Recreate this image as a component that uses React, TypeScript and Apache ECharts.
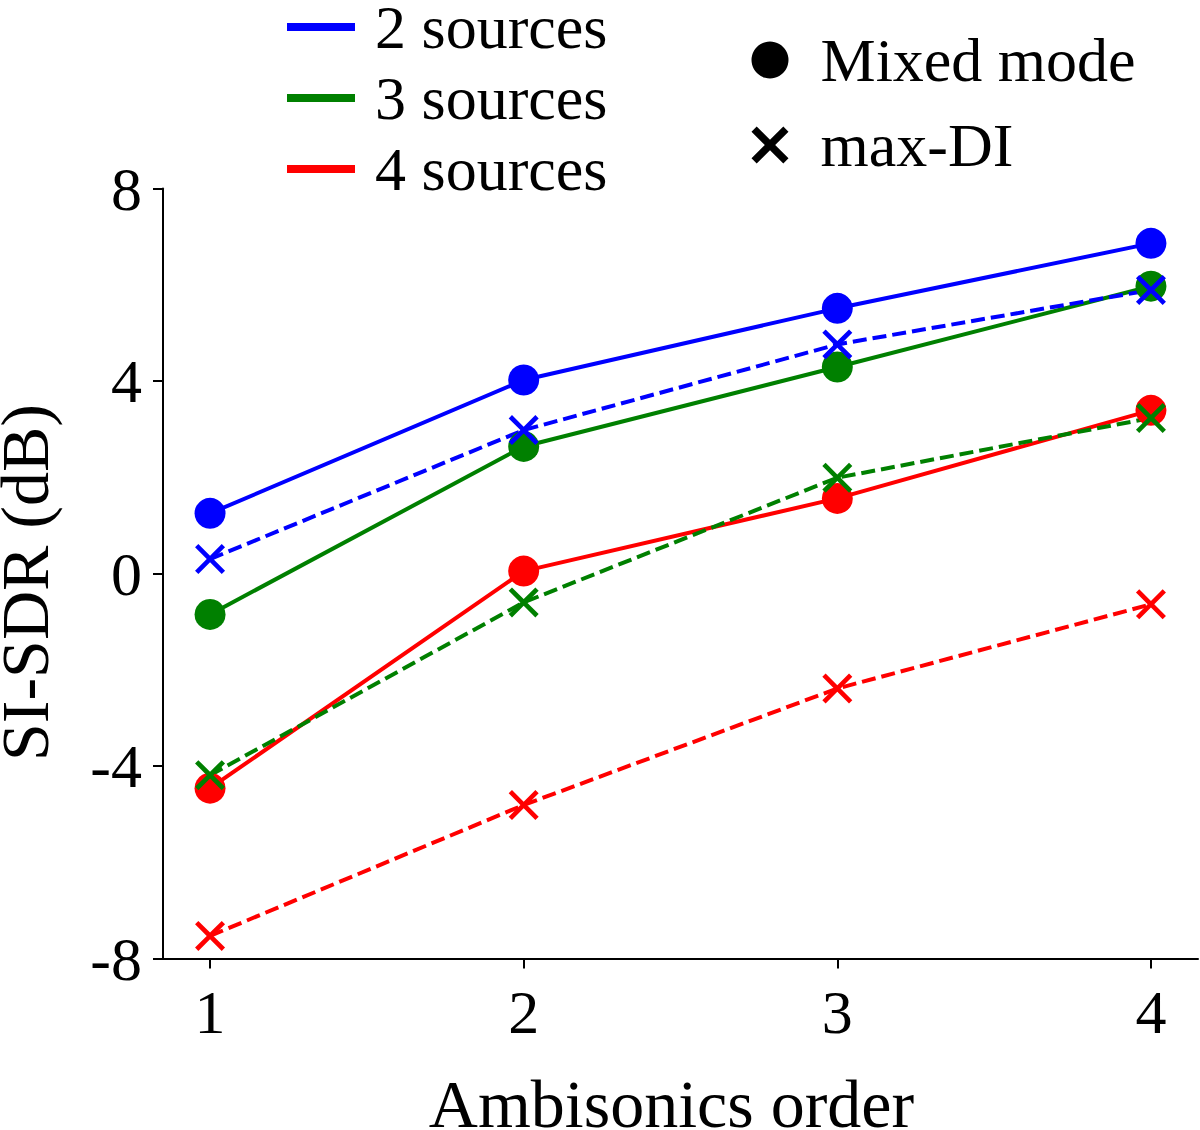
import React, { useEffect, useRef } from "react";
import * as echarts from "echarts";

const orders = [1, 2, 3, 4];
const mixed2 = [1.25, 4.02, 5.51, 6.86];
const mixed3 = [-0.85, 2.64, 4.29, 5.97];
const mixed4 = [-4.46, 0.05, 1.56, 3.39];
const maxdi2 = [0.3, 2.98, 4.76, 5.89];
const maxdi3 = [-4.19, -0.6, 1.99, 3.23];
const maxdi4 = [-7.53, -4.81, -2.39, -0.64];

const sourceNames = ["2 sources", "3 sources", "4 sources"];
const modeNames = ["Mixed mode", "max-DI"];
const colors = ["#0000ff", "#008000", "#ff0000"];
const yTicks = [-8, -4, 0, 4, 8];

const FONT = "'Liberation Serif', 'Times New Roman', serif";
const X_THIN = "path://M11,0L50,39L89,0L100,11L61,50L100,89L89,100L50,61L11,100L0,89L39,50L0,11Z";
const X_THICK = "path://M14,0L50,36L86,0L100,14L64,50L100,86L86,100L50,64L14,100L0,86L36,50L0,14Z";

const pairs = (vals: number[]) => orders.map((o, i) => [o, vals[i]]);

export default function App() {
  const ref = useRef<HTMLDivElement>(null);
  useEffect(() => {
    if (!ref.current) return;
    const chart = echarts.init(ref.current, undefined, { renderer: "svg" });
    const mixed = [mixed2, mixed3, mixed4];
    const maxdi = [maxdi2, maxdi3, maxdi4];
    const series: any[] = [];
    mixed.forEach((vals, i) => {
      series.push({
        name: sourceNames[i] + " mixed",
        type: "line",
        data: pairs(vals),
        color: colors[i],
        symbol: "circle",
        symbolSize: 31,
        itemStyle: { color: colors[i], borderWidth: 0 },
        lineStyle: { color: colors[i], width: 4, type: "solid" },
        emphasis: { disabled: true },
      });
    });
    maxdi.forEach((vals, i) => {
      series.push({
        name: sourceNames[i] + " maxdi",
        type: "line",
        data: pairs(vals),
        color: colors[i],
        symbol: X_THIN,
        symbolSize: 30,
        itemStyle: { color: colors[i], borderWidth: 0 },
        lineStyle: { color: colors[i], width: 4, type: [14, 6] },
        emphasis: { disabled: true },
      });
    });
    sourceNames.forEach((n, i) => {
      series.push({ name: n, type: "line", data: [], color: colors[i], itemStyle: { color: colors[i] } });
    });
    modeNames.forEach((n) => {
      series.push({ name: n, type: "line", data: [], color: "#000", itemStyle: { color: "#000" } });
    });

    chart.setOption({
      animation: false,
      backgroundColor: "#fff",
      grid: { left: 163, right: 2, top: 188.5, bottom: 171.5, containLabel: false, outerBoundsMode: "none" },
      legend: [
        {
          orient: "vertical",
          left: 287,
          top: -4,
          padding: 0,
          itemGap: 9,
          itemWidth: 68,
          itemHeight: 8,
          selectedMode: false,
          data: sourceNames.map((n) => ({ name: n, icon: "rect" })),
          textStyle: { fontFamily: FONT, fontSize: 62, lineHeight: 54, color: "#000", padding: [0, 0, 0, 15] },
        },
        {
          orient: "vertical",
          left: 751.5,
          top: 29,
          padding: 0,
          itemGap: 23,
          itemWidth: 37,
          itemHeight: 37,
          selectedMode: false,
          data: [
            { name: modeNames[0], icon: "circle" },
            { name: modeNames[1], icon: X_THICK },
          ],
          textStyle: { fontFamily: FONT, fontSize: 62, lineHeight: 60, color: "#000", padding: [0, 0, 0, 27] },
        },
      ],
      xAxis: {
        type: "value",
        min: 0.85,
        max: 4.15,
        name: "Ambisonics order",
        nameLocation: "middle",
        nameGap: 120,
        nameTextStyle: { fontFamily: FONT, fontSize: 68, lineHeight: 50, color: "#000", padding: [0, 18, 0, 0] },
        axisLine: { show: true, onZero: false, lineStyle: { color: "#000", width: 2 } },
        axisTick: { show: true, length: 10, lineStyle: { color: "#000", width: 2 }, customValues: orders },
        axisLabel: {
          fontFamily: FONT,
          fontSize: 62,
          color: "#000",
          margin: 22,
          customValues: orders,
          formatter: (v: number) => String(Math.round(v)),
        },
        splitLine: { show: false },
      },
      yAxis: {
        type: "value",
        min: -8,
        max: 8,
        interval: 4,
        name: "SI-SDR (dB)",
        nameLocation: "middle",
        nameGap: 115,
        nameTextStyle: { fontFamily: FONT, fontSize: 68, lineHeight: 47, color: "#000", padding: [0, 18, 0, 0] },
        axisLine: { show: true, onZero: false, lineStyle: { color: "#000", width: 2 } },
        axisTick: { show: true, length: 10, lineStyle: { color: "#000", width: 2 } },
        axisLabel: {
          fontFamily: FONT,
          fontSize: 62,
          color: "#000",
          margin: 21,
          customValues: yTicks,
        },
        splitLine: { show: false },
      },
      series,
    });
    return () => chart.dispose();
  }, []);
  return (
    <div
      ref={ref}
      style={{ position: "absolute", left: 0, top: 0, width: 1200, height: 1130, background: "#fff" }}
    />
  );
}
